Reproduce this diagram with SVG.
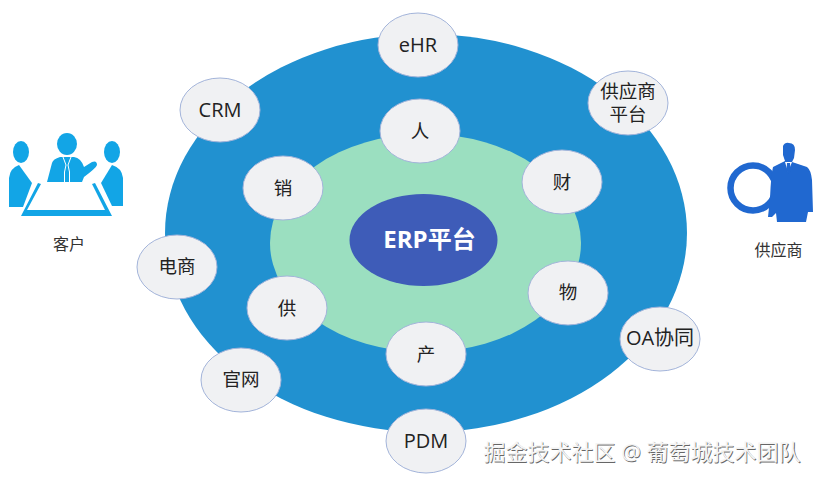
<svg xmlns="http://www.w3.org/2000/svg" width="816" height="480" viewBox="0 0 816 480">
<defs>
<style>
text{font-family:"Open Sans","Noto Sans CJK SC",sans-serif;text-anchor:middle}
.n ellipse{fill:#f0f1f3;stroke:#a3b4da;stroke-width:1}
.n text{font-size:18.500px;fill:#222}
.n text.e{font-size:20px}
.c{fill:#12a5e6}
.s{fill:#2068d0}
.l{font-size:16px;fill:#333}
.w{font-size:22px}
</style>
</defs>
<rect width="816" height="480" fill="#fff"/>
<g id="rings">
<ellipse cx="426" cy="233" rx="261" ry="199" fill="#2191d0"/>
<ellipse cx="425.5" cy="243" rx="155.5" ry="109" fill="#9bdfc0"/>
</g>
<g id="connectors"></g>
<g id="center"><ellipse cx="423.500" cy="240" rx="74" ry="46" fill="#3e5cb8"/><text x="429.500" y="248" font-size="24" font-weight="700" fill="#fff">ERP平台</text></g>
<g id="n-ehr" class="n"><ellipse cx="418" cy="45" rx="40" ry="32"/><text class="e" x="418" y="52">eHR</text></g>
<g id="n-supplier-platform" class="n"><ellipse cx="628" cy="103" rx="40" ry="32"/><text x="628" y="98">供应商</text><text x="628" y="121">平台</text></g>
<g id="n-ren" class="n"><ellipse cx="420" cy="131" rx="40" ry="32"/><text x="420" y="138">人</text></g>
<g id="n-cai" class="n"><ellipse cx="562" cy="182" rx="40" ry="32"/><text x="562" y="189">财</text></g>
<g id="n-wu" class="n"><ellipse cx="568" cy="293" rx="40" ry="32"/><text x="568" y="299">物</text></g>
<g id="n-oa" class="n"><ellipse cx="660" cy="339" rx="40" ry="32"/><text class="e" x="660" y="345">OA协同</text></g>
<g id="n-chan" class="n"><ellipse cx="426" cy="354" rx="40" ry="32"/><text x="426" y="361">产</text></g>
<g id="n-pdm" class="n"><ellipse cx="426" cy="441" rx="40" ry="32"/><text class="e" x="426" y="448">PDM</text></g>
<g id="n-site" class="n"><ellipse cx="241" cy="380" rx="40" ry="32"/><text x="241" y="386">官网</text></g>
<g id="n-gong" class="n"><ellipse cx="287" cy="308" rx="40" ry="32"/><text x="287" y="315">供</text></g>
<g id="n-ec" class="n"><ellipse cx="177" cy="267" rx="40" ry="32"/><text x="177" y="273">电商</text></g>
<g id="n-xiao" class="n"><ellipse cx="283" cy="188" rx="40" ry="32"/><text x="283" y="195">销</text></g>
<g id="n-crm" class="n"><ellipse cx="220" cy="110" rx="40" ry="32"/><text class="e" x="220" y="117">CRM</text></g>
<g id="customer">
<ellipse class="c" cx="67" cy="144" rx="10" ry="11"/>
<ellipse class="c" cx="21" cy="152" rx="8" ry="11"/>
<ellipse class="c" cx="112" cy="152" rx="8" ry="11"/>
<path class="c" d="M47 182 L52 163 Q53 159 60 157 L74 157 Q81 158 84 167 L92 162 Q97 160 97 165 Q96 168 84 177 L82 182Z"/>
<path d="M63 157 L66 165 L64.500 172 L64.500 182 M71 157 L68 165 L69.500 172 L69.500 182" fill="none" stroke="#fff" stroke-width="1"/>
<path class="c" d="M9 207 L9 178 Q10 168 19 165 L32 183 L23 207Z"/>
<path class="c" d="M123 206 L123 178 Q122 168 112 165 L101 183 L112 206Z"/>
<path class="c" d="M38 183 L41 184 L27 210 L105 210 L92 184 L95 183 L112 216 L21 216Z"/>
<text class="l" x="69" y="250">客户</text>
</g>
<g id="supplier">
<circle cx="753" cy="188" r="22.500" fill="none" stroke="#2068d0" stroke-width="6.500"/>
<path d="M776 165 L812 165 L812 222 L772 222Z" fill="#fff" opacity="0"/>
<path class="s" d="M783 146 Q785 142 789 143 Q795 143 795 150 L794 158 L792 162 L807 167 Q811 170 812 180 L813 212 L808 212 L806 222 L777 222 L776 213 L772 217 L768 217 L770 198 Q771 175 773 167 L785 161 L783 155Z"/>
<path d="M785 162 L792 162 L788 172Z" fill="#fff"/>
<path class="s" d="M787 163 L790 163 L790.500 170 L788.500 175 L786.500 170Z"/>
<text class="l" x="778.500" y="256">供应商</text>
</g>
<g id="watermark">
<text class="w" x="642" y="460" fill="#666" transform="translate(.8 .8)">掘金技术社区 @ 葡萄城技术团队</text>
<text class="w" x="642" y="460" fill="#f4f4f4">掘金技术社区 @ 葡萄城技术团队</text>
</g>
</svg>
